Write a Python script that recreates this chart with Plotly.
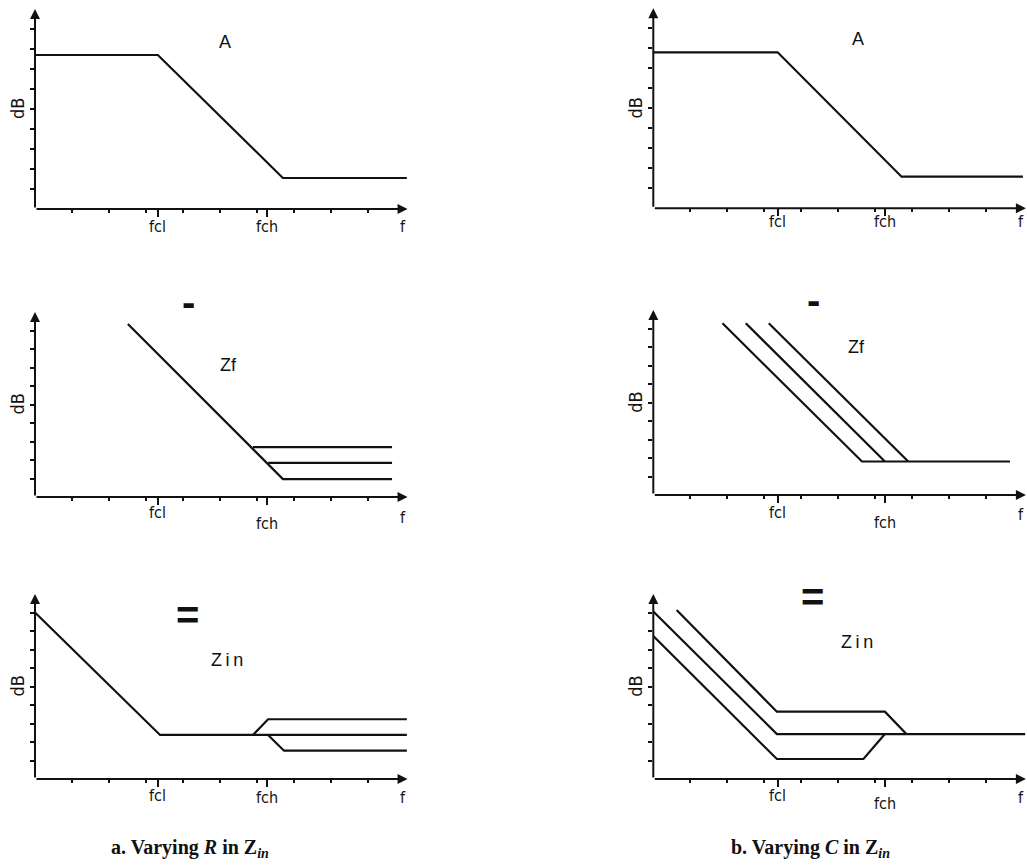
import plotly.graph_objects as go

W, H = 1027, 865

# ---- data (x in frequency-tick units, y in dB-tick units) ----
# a. Varying R in Zin
a_A_x = [0, 3.32, 6.70, 10.05]
a_A_y = [7.7, 7.7, 1.55, 1.55]

a_Zf_base_x = [2.51, 6.70, 9.65]
a_Zf_base_y = [9.35, 0.97, 0.97]
a_Zf_mid_x = [6.30, 9.65]
a_Zf_mid_y = [1.84, 1.84]
a_Zf_up_x = [5.89, 9.65]
a_Zf_up_y = [2.70, 2.70]

a_Zin_base_x = [0, 3.38, 10.05]
a_Zin_base_y = [9.0, 2.38, 2.38]
a_Zin_up_x = [5.89, 6.30, 10.05]
a_Zin_up_y = [2.38, 3.23, 3.23]
a_Zin_down_x = [6.30, 6.73, 10.05]
a_Zin_down_y = [2.38, 1.53, 1.53]

# b. Varying C in Zin
b_A_x = [0, 3.36, 6.71, 9.99]
b_A_y = [7.8, 7.8, 1.58, 1.58]

b_Zf_1_x = [1.87, 5.64, 9.64]
b_Zf_1_y = [9.28, 1.81, 1.81]
b_Zf_2_x = [2.50, 6.26]
b_Zf_2_y = [9.28, 1.81]
b_Zf_3_x = [3.12, 6.89]
b_Zf_3_y = [9.28, 1.81]

b_Zin_mid_x = [0, 3.34, 10.05]
b_Zin_mid_y = [9.05, 2.43, 2.43]
b_Zin_up_x = [0.63, 3.34, 6.26, 6.84]
b_Zin_up_y = [9.14, 3.64, 3.64, 2.43]
b_Zin_low_x = [0, 3.34, 5.68, 6.26]
b_Zin_low_y = [7.73, 1.08, 1.08, 2.43]

# corner frequencies (major x ticks) per column
fcl_a, fch_a = 3.32, 6.27
fcl_b, fch_b = 3.37, 6.27

x_tick_labels = ["fcl", "fch", "f"]
minor_x = [1, 2, 3, 4, 5, 6, 7, 8, 9]
minor_y = [1, 2, 3, 4, 5, 6, 7, 8, 9]

# ---- panel geometry: origin pixel, pixels per unit ----
SX = 37.0
X_MAX = 10.1
panels = [
    # (origin_x_px, origin_y_px, px_per_y_unit, y_top)
    (35.0, 209.0, 20.0, 10.2),   # 1 a-A
    (653.3, 208.3, 20.0, 10.2),  # 2 b-A
    (35.0, 497.0, 18.5, 11.0),   # 3 a-Zf
    (653.3, 495.0, 18.5, 11.0),  # 4 b-Zf
    (35.0, 779.0, 18.5, 11.0),   # 5 a-Zin
    (653.3, 779.0, 18.5, 11.0),  # 6 b-Zin
]

traces = {
    1: [(a_A_x, a_A_y)],
    2: [(b_A_x, b_A_y)],
    3: [(a_Zf_base_x, a_Zf_base_y), (a_Zf_mid_x, a_Zf_mid_y), (a_Zf_up_x, a_Zf_up_y)],
    4: [(b_Zf_1_x, b_Zf_1_y), (b_Zf_2_x, b_Zf_2_y), (b_Zf_3_x, b_Zf_3_y)],
    5: [(a_Zin_base_x, a_Zin_base_y), (a_Zin_up_x, a_Zin_up_y), (a_Zin_down_x, a_Zin_down_y)],
    6: [(b_Zin_mid_x, b_Zin_mid_y), (b_Zin_up_x, b_Zin_up_y), (b_Zin_low_x, b_Zin_low_y)],
}

INK = "#111111"

fig = go.Figure()
for i, segs in traces.items():
    for xs, ys in segs:
        fig.add_trace(go.Scatter(
            x=xs, y=ys, mode="lines",
            line=dict(color=INK, width=2.2),
            xaxis=f"x{i}", yaxis=f"y{i}",
            showlegend=False, hoverinfo="skip",
        ))

layout = {}
annotations = []
NARROW = "Liberation Sans Narrow, Arial Narrow, DejaVu Sans Condensed, Liberation Sans, sans-serif"
PLAIN = "Liberation Sans, Arial, sans-serif"

# tick-label vertical offsets (px below axis) for fcl, fch, f
label_offsets = {
    1: (17, 17, 17), 2: (13, 13, 13),
    3: (15, 26, 20), 4: (17, 27, 19),
    5: (16, 18, 18), 6: (16, 24, 18),
}

for i, (ox, oy, sy, ytop) in enumerate(panels, start=1):
    fcl, fch = (fcl_a, fch_a) if i % 2 == 1 else (fcl_b, fch_b)
    xd = [ox / W, min(1.0, (ox + X_MAX * SX) / W)]
    yd = [1 - oy / H, 1 - (oy - ytop * sy) / H]
    sfx = "" if i == 1 else str(i)
    layout[f"xaxis{sfx}"] = dict(
        domain=xd, range=[0, X_MAX], anchor=f"y{i}",
        showgrid=False, zeroline=False, showline=False,
        tickvals=[fcl, fch], ticks="outside", ticklen=7, tickwidth=1.5,
        tickcolor=INK, showticklabels=False, fixedrange=True,
        minor=dict(tickvals=minor_x, ticks="outside", ticklen=3,
                   tickwidth=1.5, tickcolor=INK, showgrid=False),
    )
    layout[f"yaxis{sfx}"] = dict(
        domain=yd, range=[0, ytop], anchor=f"x{i}",
        showgrid=False, zeroline=False, showline=False,
        tickvals=minor_y, ticks="outside", ticklen=4, tickwidth=1.5,
        tickcolor=INK, showticklabels=False, fixedrange=True,
    )
    xr, yr = f"x{i}", f"y{i}"
    # axes drawn as arrows from the origin
    annotations.append(dict(x=10.07, y=0, ax=0, ay=0, xref=xr, yref=yr,
                            axref=xr, ayref=yr, text="", showarrow=True,
                            arrowhead=2, arrowwidth=2, arrowsize=1.0,
                            arrowcolor=INK))
    annotations.append(dict(x=0, y=10.0, ax=0, ay=0, xref=xr, yref=yr,
                            axref=xr, ayref=yr, text="", showarrow=True,
                            arrowhead=2, arrowwidth=2, arrowsize=1.0,
                            arrowcolor=INK))
    # x tick labels
    offs = label_offsets[i]
    for txt, xv, off in zip(x_tick_labels, [fcl, fch, 9.95], offs):
        annotations.append(dict(x=xv, y=0, xref=xr, yref=yr, text=txt,
                                showarrow=False, yanchor="middle",
                                xanchor="center", yshift=-off,
                                font=dict(family=NARROW, size=16, color=INK)))
    # y axis title
    annotations.append(dict(x=0, y=5, xref=xr, yref=yr, text="dB",
                            showarrow=False, textangle=-90, xshift=-18,
                            font=dict(family=NARROW, size=18, color=INK)))

# curve names and the operators between rows
names = [
    (1, 5.14, 8.35, "A", 18, "normal"),
    (2, 5.53, 8.47, "A", 18, "normal"),
    (3, 4.14, 10.56, "-", 40, "bold"),
    (4, 4.34, 10.54, "-", 40, "bold"),
    (3, 5.22, 7.14, "Zf", 18, "normal"),
    (4, 5.50, 8.02, "Zf", 18, "normal"),
    (5, 4.13, 8.86, "=", 40, "bold"),
    (6, 4.30, 9.85, "=", 40, "bold"),
    (5, 5.18, 6.43, "Z\u2009i\u2009n", 18, "normal"),
    (6, 5.50, 7.42, "Z\u2009i\u2009n", 18, "normal"),
]
for i, xv, yv, txt, sz, wt in names:
    annotations.append(dict(x=xv, y=yv, xref=f"x{i}", yref=f"y{i}", text=txt,
                            showarrow=False, xanchor="center", yanchor="middle",
                            font=dict(family=PLAIN, size=sz, color=INK, weight=wt)))

SERIF = "Liberation Serif, Times New Roman, serif"
captions = [
    (190 / W, "<b>a. Varying <i>R</i> in Z<sub><i>in</i></sub></b>"),
    (810 / W, "<b>b. Varying <i>C</i> in Z<sub><i>in</i></sub></b>"),
]
for xp, txt in captions:
    annotations.append(dict(x=xp, y=1 - 848 / H, xref="paper", yref="paper",
                            xanchor="center", yanchor="middle",
                            text=txt, showarrow=False,
                            font=dict(family=SERIF, size=20, color=INK)))

fig.update_layout(
    width=W, height=H,
    margin=dict(l=0, r=0, t=0, b=0),
    paper_bgcolor="white", plot_bgcolor="white",
    annotations=annotations,
    **layout,
)

fig.write_html("out.html")
